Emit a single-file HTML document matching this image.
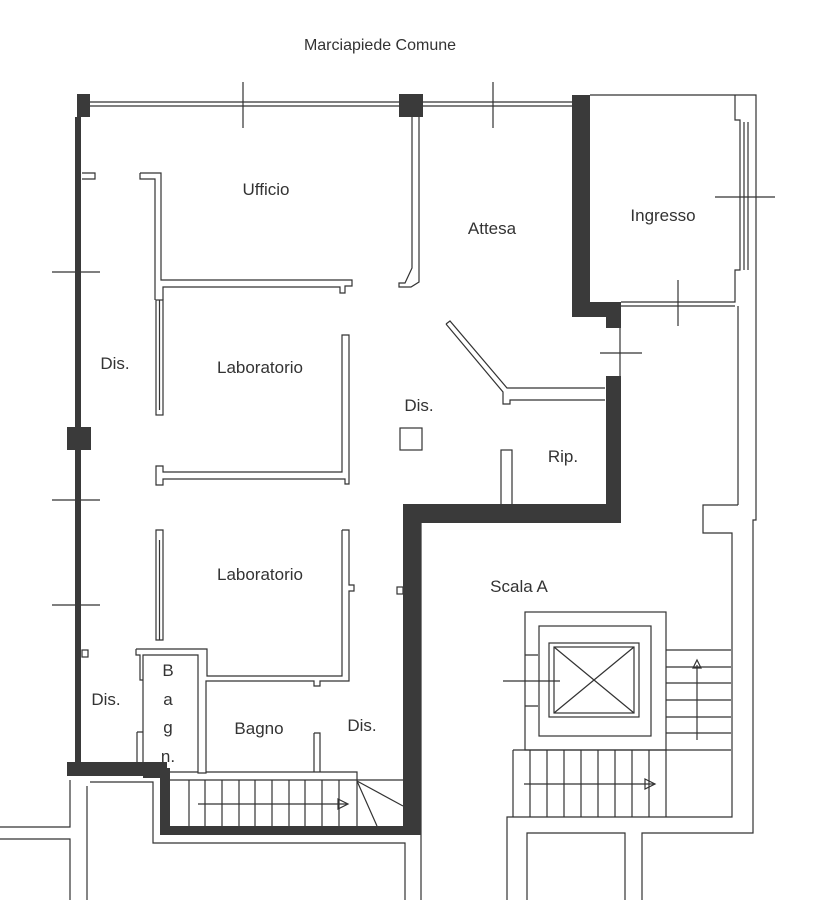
<!DOCTYPE html>
<html><head><meta charset="utf-8"><style>
html,body{margin:0;padding:0;background:#fff;}
svg{display:block}
text{font-family:"Liberation Sans",sans-serif;fill:#333;}
</style></head><body>
<svg width="813" height="900" viewBox="0 0 813 900" xmlns="http://www.w3.org/2000/svg">
<g fill="none" stroke="#333" stroke-width="1.2">
<line x1="88" y1="102" x2="572" y2="102"/>
<line x1="88" y1="106" x2="572" y2="106"/>
<line x1="243" y1="82" x2="243" y2="128"/>
<line x1="493" y1="82" x2="493" y2="128"/>
<line x1="52" y1="272" x2="100" y2="272"/>
<line x1="52" y1="500" x2="100" y2="500"/>
<line x1="52" y1="605" x2="100" y2="605"/>
<path d="M140,173 H161 V280 H352 V286 H345 V293 H340 V287 H163 V300"/>
<path d="M140,173 V179 H155 V300"/>
<path d="M82,173 H95 V179 H82"/>
<rect x="156" y="300" width="7" height="115"/>
<line x1="159.5" y1="300" x2="159.5" y2="410"/>
<path d="M412,117 V268 L405,283 H399 V287 H411 L419,282 V117"/>
<path d="M342,335 H349 V484 H345 V479 H163 V485 H156 V466 H163 V472 H342 Z"/>
<path d="M156,530 H163 V640 H156 Z"/>
<line x1="159.5" y1="540" x2="159.5" y2="640"/>
<path d="M342,530 H349 V585 H354 V591 H349 V681 H320 V686 H314 V681 H206 V773 H198 V655 H143 V772 H198"/>
<path d="M136,649 H207 V676 H342 V530"/>
<path d="M136,649 V655 H140 V680 H143"/>
<path d="M137,732 H143 M137,732 V765"/>
<rect x="82" y="650" width="6" height="7"/>
<rect x="397" y="587" width="6" height="7"/>
<path d="M206,772 H357 V780"/>
<path d="M314,733 H320 V772 M314,733 V772"/>
<rect x="400" y="428" width="22" height="22"/>
<path d="M446,324 L450,321 L507,388 H605 M446,324 L503,392 V404 H510 V400 H605"/>
<rect x="501" y="450" width="11" height="55"/>
<path d="M590,95 H756 V505"/>
<path d="M735,95 V120 H740 V270 H735 V302 H621"/>
<line x1="744" y1="122" x2="744" y2="270"/>
<line x1="748" y1="122" x2="748" y2="270"/>
<line x1="715" y1="197" x2="775" y2="197"/>
<line x1="621" y1="306" x2="735" y2="306"/>
<line x1="678" y1="280" x2="678" y2="326"/>
<line x1="738" y1="306" x2="738" y2="505"/>
<line x1="600" y1="353" x2="642" y2="353"/>
<line x1="620" y1="328" x2="620" y2="376"/>
<!-- right side outer -->
<path d="M738,505 H703 V533 H732 V817 H507 V900"/>
<path d="M756,505 V520 H753 V833 H642 V900"/>
<path d="M625,900 V833 H527 V900"/>
<line x1="421" y1="523" x2="421" y2="832"/>
<!-- elevator -->
<rect x="525" y="612" width="141" height="138"/>
<rect x="539" y="626" width="112" height="110"/>
<rect x="549" y="643" width="90" height="74"/>
<rect x="554" y="647" width="80" height="66"/>
<line x1="554" y1="647" x2="634" y2="713"/>
<line x1="634" y1="647" x2="554" y2="713"/>
<path d="M525,655 H538 M525,706 H538"/>
<line x1="503" y1="681" x2="560" y2="681"/>
<path d="M666,650 H731 M666,667 H731 M666,683 H731 M666,700 H731 M666,717 H731 M666,733 H731 M666,750 H731"/>
<line x1="697" y1="665" x2="697" y2="740"/>
<path d="M693,668 L697,660 L701,668 Z"/>
<path d="M513,750 H666 V817 M513,750 V817"/>
<path d="M530,750V817M547,750V817M564,750V817M581,750V817M598,750V817M615,750V817M632,750V817M649,750V817"/>
<line x1="524" y1="784" x2="655" y2="784"/>
<path d="M645,779 L655,784 L645,789 Z"/>
<!-- bottom left stairs -->
<path d="M170,780 H357 V826 M357,780 H403"/>
<path d="M189,780V826M205,780V826M222,780V826M239,780V826M255,780V826M272,780V826M289,780V826M305,780V826M322,780V826M339,780V826"/>
<line x1="198" y1="804" x2="347" y2="804"/>
<path d="M338,799 L348,804 L338,809 Z"/>
<path d="M357,781 L403,806 M357,781 L377,826"/>
<path d="M70,780 V827 H0 M0,839 H70 V900"/>
<path d="M87,786 V900"/>
<path d="M90,782 H153 V843 H405 V900"/>
<line x1="421" y1="832" x2="421" y2="900"/>
</g>
<g fill="#3a3a3a">
<rect x="77" y="94" width="13" height="23"/>
<rect x="399" y="94" width="24" height="23"/>
<rect x="75" y="117" width="6" height="648"/>
<rect x="67" y="427" width="24" height="23"/>
<rect x="67" y="762" width="100" height="14"/>
<rect x="143" y="768" width="27" height="10"/>
<rect x="160" y="772" width="10" height="62"/>
<rect x="160" y="826" width="261" height="9"/>
<rect x="403" y="505" width="18" height="330"/>
<rect x="403" y="504" width="218" height="19"/>
<rect x="606" y="376" width="15" height="147"/>
<rect x="572" y="95" width="18" height="222"/>
<rect x="572" y="302" width="49" height="15"/>
<rect x="606" y="302" width="15" height="26"/>
</g>
<text x="380" y="50" font-size="16" text-anchor="middle">Marciapiede Comune</text>
<text x="266" y="195" font-size="17" text-anchor="middle">Ufficio</text>
<text x="492" y="234" font-size="17" text-anchor="middle">Attesa</text>
<text x="663" y="221" font-size="17" text-anchor="middle">Ingresso</text>
<text x="115" y="369" font-size="17" text-anchor="middle">Dis.</text>
<text x="260" y="373" font-size="17" text-anchor="middle">Laboratorio</text>
<text x="419" y="411" font-size="17" text-anchor="middle">Dis.</text>
<text x="563" y="462" font-size="17" text-anchor="middle">Rip.</text>
<text x="260" y="580" font-size="17" text-anchor="middle">Laboratorio</text>
<text x="519" y="592" font-size="17" text-anchor="middle">Scala A</text>
<text x="106" y="705" font-size="17" text-anchor="middle">Dis.</text>
<text x="168" y="676" font-size="17" text-anchor="middle">B</text>
<text x="168" y="705" font-size="17" text-anchor="middle">a</text>
<text x="168" y="733" font-size="17" text-anchor="middle">g</text>
<text x="168" y="762" font-size="17" text-anchor="middle">n.</text>
<text x="259" y="734" font-size="17" text-anchor="middle">Bagno</text>
<text x="362" y="731" font-size="17" text-anchor="middle">Dis.</text>
</svg>
</body></html>
